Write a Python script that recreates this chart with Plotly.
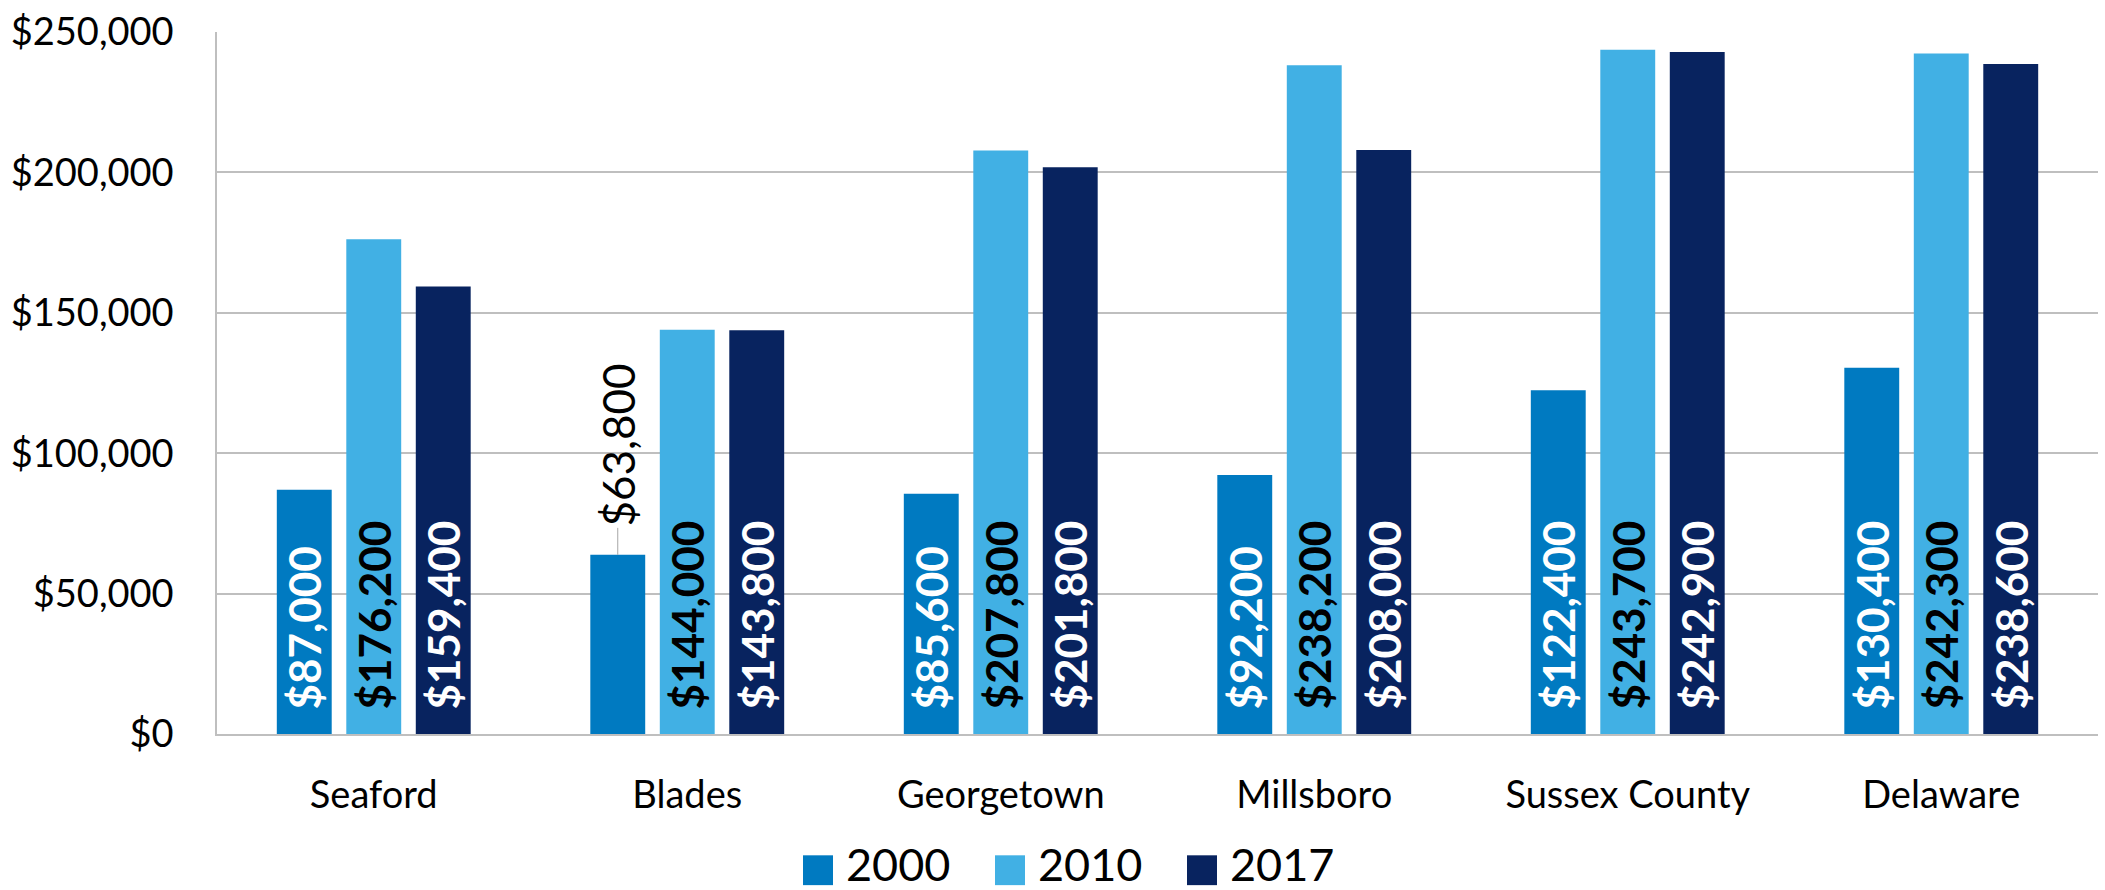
import plotly.graph_objects as go

# ---------------- data ----------------
categories = ["Seaford", "Blades", "Georgetown", "Millsboro", "Sussex County", "Delaware"]
series_names = ["2000", "2010", "2017"]
values_2000 = [87000, 63800, 85600, 92200, 122400, 130400]
values_2010 = [176200, 144000, 207800, 238200, 243700, 242300]
values_2017 = [159400, 143800, 201800, 208000, 242900, 238600]
series_values = [values_2000, values_2010, values_2017]
# which bar labels sit inside the bar (the Blades 2000 label is outside, with a leader line)
inside_2000 = [True, False, True, True, True, True]
inside_2010 = [True, True, True, True, True, True]
inside_2017 = [True, True, True, True, True, True]
inside_flags = [inside_2000, inside_2010, inside_2017]
y_tick_values = [0, 50000, 100000, 150000, 200000, 250000]
y_tick_labels = ["$0", "$50,000", "$100,000", "$150,000", "$200,000", "$250,000"]

# ---------------- style ----------------
colors = ["#007AC1", "#41B0E4", "#08235F"]
label_colors = ["white", "black", "white"]
FONT = "Lato"
W, H = 2105, 890
ML, MR, MT, MB = 217, 7, 28, 156
BARGAP = 0.335
BARGROUPGAP = 0.21
PAD = "\u00a0\u00a0"

plot_w = W - ML - MR
plot_h = H - MT - MB


def fmt(v):
    return "${:,}".format(v)


def px_to_paper_x(px):
    return (px - ML) / plot_w


def px_to_paper_y(py):
    return (H - MB - py) / plot_h


fig = go.Figure()
for name, vals, col, lcol, flags in zip(series_names, series_values, colors, label_colors, inside_flags):
    fig.add_trace(go.Bar(
        name=name,
        x=categories,
        y=vals,
        marker=dict(color=col, line=dict(width=0)),
        text=[PAD + fmt(v) if f else "" for v, f in zip(vals, flags)],
        textposition="inside",
        insidetextanchor="start",
        textangle=-90,
        constraintext="none",
        insidetextfont=dict(family=FONT, size=44, color=lcol, weight="bold"),
        showlegend=False,
        hoverinfo="x+y",
    ))

annotations = []
# outside labels (with leader line)
n_series = len(series_names)
for s, (vals, flags) in enumerate(zip(series_values, inside_flags)):
    for i, (v, f) in enumerate(zip(vals, flags)):
        if f:
            continue
        offset = (s - (n_series - 1) / 2) * (1 - BARGAP) / n_series
        annotations.append(dict(
            x=i + offset, y=v, xref="x", yref="y",
            text=fmt(v), textangle=-90,
            showarrow=True, arrowhead=0, arrowwidth=1, arrowcolor="#A6A6A6",
            ax=0, ay=-110, standoff=0,
            font=dict(family=FONT, size=44, color="black"),
        ))

# manual legend (large square swatches)
legend_x0 = 803
legend_pitch = 192
sw = 30
legend_cy = 871
legend_text_cy = 865
shapes = []
for i, (name, col) in enumerate(zip(series_names, colors)):
    x0 = legend_x0 + i * legend_pitch
    shapes.append(dict(
        type="rect", xref="paper", yref="paper",
        x0=px_to_paper_x(x0), x1=px_to_paper_x(x0 + sw),
        y0=px_to_paper_y(legend_cy + sw / 2), y1=px_to_paper_y(legend_cy - sw / 2),
        fillcolor=col, line=dict(width=0),
    ))
    annotations.append(dict(
        x=px_to_paper_x(x0 + sw + 12), y=px_to_paper_y(legend_text_cy),
        xref="paper", yref="paper", xanchor="left", yanchor="middle",
        text=name, showarrow=False, borderpad=0,
        font=dict(family=FONT, size=45, color="black"),
    ))

fig.update_layout(
    width=W, height=H,
    margin=dict(l=ML, r=MR, t=MT, b=MB, pad=0),
    paper_bgcolor="white", plot_bgcolor="white",
    barmode="group", bargap=BARGAP, bargroupgap=BARGROUPGAP,
    font=dict(family=FONT, color="black"),
    annotations=annotations,
    shapes=shapes,
    showlegend=False,
    xaxis=dict(
        type="category",
        showline=True, linecolor="#BFBFBF", linewidth=2,
        showgrid=False, ticks="",
        tickfont=dict(family=FONT, size=38, color="black"),
        ticklabelstandoff=26,
    ),
    yaxis=dict(
        range=[0, 250000],
        tickvals=y_tick_values, ticktext=y_tick_labels,
        showgrid=True, gridcolor="#BFBFBF", gridwidth=1.5,
        showline=True, linecolor="#BFBFBF", linewidth=1.5,
        zeroline=False, ticks="",
        tickfont=dict(family=FONT, size=38, color="black"),
        ticklabelstandoff=34,
    ),
)

fig.write_html("out.html")
